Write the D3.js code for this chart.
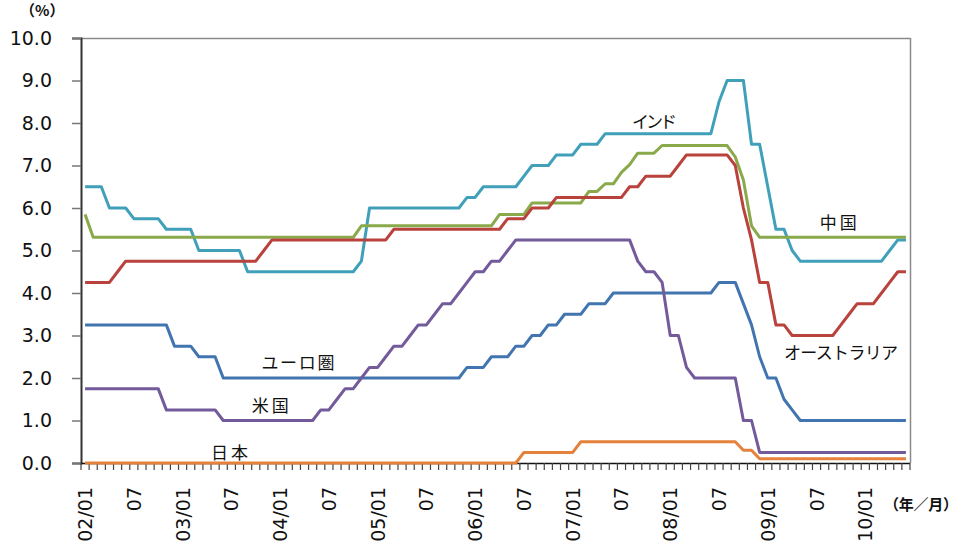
<!DOCTYPE html>
<html><head><meta charset="utf-8">
<script src="https://cdn.jsdelivr.net/npm/d3@7"></script>
<style>
html,body{margin:0;padding:0;background:#fff;}
svg{display:block;}
</style></head>
<body>
<svg id="chart" width="961" height="548"></svg>
<script>
// ---- Data (monthly, 2002/01 – 2010/06) ----
const years = ["02","03","04","05","06","07","08","09","10"];
const monthsInLastYear = 6;

const india = [
 6.5,6.5,6.5,6.0,6.0,6.0,5.75,5.75,5.75,5.75,5.5,5.5,
 5.5,5.5,5.0,5.0,5.0,5.0,5.0,5.0,4.5,4.5,4.5,4.5,
 4.5,4.5,4.5,4.5,4.5,4.5,4.5,4.5,4.5,4.5,4.75,6.0,
 6.0,6.0,6.0,6.0,6.0,6.0,6.0,6.0,6.0,6.0,6.0,6.25,
 6.25,6.5,6.5,6.5,6.5,6.5,6.75,7.0,7.0,7.0,7.25,7.25,
 7.25,7.5,7.5,7.5,7.75,7.75,7.75,7.75,7.75,7.75,7.75,7.75,
 7.75,7.75,7.75,7.75,7.75,7.75,8.5,9.0,9.0,9.0,7.5,7.5,
 6.5,5.5,5.5,5.0,4.75,4.75,4.75,4.75,4.75,4.75,4.75,4.75,
 4.75,4.75,4.75,5.0,5.25,5.25
];
const china = [
 5.85,5.31,5.31,5.31,5.31,5.31,5.31,5.31,5.31,5.31,5.31,5.31,
 5.31,5.31,5.31,5.31,5.31,5.31,5.31,5.31,5.31,5.31,5.31,5.31,
 5.31,5.31,5.31,5.31,5.31,5.31,5.31,5.31,5.31,5.31,5.58,5.58,
 5.58,5.58,5.58,5.58,5.58,5.58,5.58,5.58,5.58,5.58,5.58,5.58,
 5.58,5.58,5.58,5.85,5.85,5.85,5.85,6.12,6.12,6.12,6.12,6.12,
 6.12,6.12,6.39,6.39,6.57,6.57,6.84,7.02,7.29,7.29,7.29,7.47,
 7.47,7.47,7.47,7.47,7.47,7.47,7.47,7.47,7.2,6.66,5.58,5.31,
 5.31,5.31,5.31,5.31,5.31,5.31,5.31,5.31,5.31,5.31,5.31,5.31,
 5.31,5.31,5.31,5.31,5.31,5.31
];
const australia = [
 4.25,4.25,4.25,4.25,4.5,4.75,4.75,4.75,4.75,4.75,4.75,4.75,
 4.75,4.75,4.75,4.75,4.75,4.75,4.75,4.75,4.75,4.75,5.0,5.25,
 5.25,5.25,5.25,5.25,5.25,5.25,5.25,5.25,5.25,5.25,5.25,5.25,
 5.25,5.25,5.5,5.5,5.5,5.5,5.5,5.5,5.5,5.5,5.5,5.5,
 5.5,5.5,5.5,5.5,5.75,5.75,5.75,6.0,6.0,6.0,6.25,6.25,
 6.25,6.25,6.25,6.25,6.25,6.25,6.25,6.5,6.5,6.75,6.75,6.75,
 6.75,7.0,7.25,7.25,7.25,7.25,7.25,7.25,7.0,6.0,5.25,4.25,
 4.25,3.25,3.25,3.0,3.0,3.0,3.0,3.0,3.0,3.25,3.5,3.75,
 3.75,3.75,4.0,4.25,4.5,4.5
];
const euro = [
 3.25,3.25,3.25,3.25,3.25,3.25,3.25,3.25,3.25,3.25,3.25,2.75,
 2.75,2.75,2.5,2.5,2.5,2.0,2.0,2.0,2.0,2.0,2.0,2.0,
 2.0,2.0,2.0,2.0,2.0,2.0,2.0,2.0,2.0,2.0,2.0,2.0,
 2.0,2.0,2.0,2.0,2.0,2.0,2.0,2.0,2.0,2.0,2.0,2.25,
 2.25,2.25,2.5,2.5,2.5,2.75,2.75,3.0,3.0,3.25,3.25,3.5,
 3.5,3.5,3.75,3.75,3.75,4.0,4.0,4.0,4.0,4.0,4.0,4.0,
 4.0,4.0,4.0,4.0,4.0,4.0,4.25,4.25,4.25,3.75,3.25,2.5,
 2.0,2.0,1.5,1.25,1.0,1.0,1.0,1.0,1.0,1.0,1.0,1.0,
 1.0,1.0,1.0,1.0,1.0,1.0
];
const usa = [
 1.75,1.75,1.75,1.75,1.75,1.75,1.75,1.75,1.75,1.75,1.25,1.25,
 1.25,1.25,1.25,1.25,1.25,1.0,1.0,1.0,1.0,1.0,1.0,1.0,
 1.0,1.0,1.0,1.0,1.0,1.25,1.25,1.5,1.75,1.75,2.0,2.25,
 2.25,2.5,2.75,2.75,3.0,3.25,3.25,3.5,3.75,3.75,4.0,4.25,
 4.5,4.5,4.75,4.75,5.0,5.25,5.25,5.25,5.25,5.25,5.25,5.25,
 5.25,5.25,5.25,5.25,5.25,5.25,5.25,5.25,4.75,4.5,4.5,4.25,
 3.0,3.0,2.25,2.0,2.0,2.0,2.0,2.0,2.0,1.0,1.0,0.25,
 0.25,0.25,0.25,0.25,0.25,0.25,0.25,0.25,0.25,0.25,0.25,0.25,
 0.25,0.25,0.25,0.25,0.25,0.25
];
const japan = [
 0,0,0,0,0,0,0,0,0,0,0,0,
 0,0,0,0,0,0,0,0,0,0,0,0,
 0,0,0,0,0,0,0,0,0,0,0,0,
 0,0,0,0,0,0,0,0,0,0,0,0,
 0,0,0,0,0,0,0.25,0.25,0.25,0.25,0.25,0.25,
 0.25,0.5,0.5,0.5,0.5,0.5,0.5,0.5,0.5,0.5,0.5,0.5,
 0.5,0.5,0.5,0.5,0.5,0.5,0.5,0.5,0.5,0.3,0.3,0.1,
 0.1,0.1,0.1,0.1,0.1,0.1,0.1,0.1,0.1,0.1,0.1,0.1,
 0.1,0.1,0.1,0.1,0.1,0.1
];
const yTicks = [0,1,2,3,4,5,6,7,8,9,10];

// categories "YY/MM"
const categories = [];
years.forEach((y, yi) => {
  const n = yi === years.length - 1 ? monthsInLastYear : 12;
  for (let m = 1; m <= n; m++) categories.push(y + "/" + String(m).padStart(2, "0"));
});
const tickLabel = c => c.endsWith("/01") ? c : (c.endsWith("/07") ? "07" : null);

const series = [
  {name:"インド", values:india, color:"#40a0b9"},
  {name:"中国", values:china, color:"#8aa94b"},
  {name:"オーストラリア", values:australia, color:"#b9423d"},
  {name:"ユーロ圏", values:euro, color:"#4275b0"},
  {name:"米国", values:usa, color:"#735a9b"},
  {name:"日本", values:japan, color:"#e4813b"}
];
// annotation labels: [text, left edge (in months from start), centre (value), width]
const labels = [
  ["インド", 67.8, 8.05, 45],
  ["中国", 90.9, 5.68, 37],
  ["オーストラリア", 86.5, 2.62, 114],
  ["ユーロ圏", 22.2, 2.38, 73],
  ["米国", 21.0, 1.38, 37],
  ["日本", 16.0, 0.27, 37]
];

// ---- Drawing ----
const svg = d3.select("#chart");
const L = 81, R = 910, T = 38, B = 463;
const x = d3.scaleBand().domain(d3.range(categories.length)).range([L, R]).paddingInner(0).paddingOuter(0);
const y = d3.scaleLinear().domain([0, 10]).range([B, T]);
const cx = i => x(i) + x.bandwidth() / 2;

// plot frame (top / right)
svg.append("line").attr("x1", L).attr("x2", R + 0.5).attr("y1", T + 0.5).attr("y2", T + 0.5)
  .attr("stroke", "#8a8a8a").attr("stroke-width", 1.5);
svg.append("line").attr("x1", R + 0.5).attr("x2", R + 0.5).attr("y1", T).attr("y2", B)
  .attr("stroke", "#8a8a8a").attr("stroke-width", 1.5);

// y axis
const yAxis = d3.axisLeft(y).tickValues(yTicks).tickFormat(d3.format(".1f")).tickSize(9).tickPadding(20);
const gy = svg.append("g").attr("transform", `translate(${L},0)`).call(yAxis);
gy.select(".domain").attr("stroke", "#333").attr("stroke-width", 2);
gy.selectAll(".tick line").attr("stroke", "#777").attr("stroke-width", 1.5);
gy.selectAll(".tick text").attr("font-family", "DejaVu Sans, Verdana, sans-serif")
  .attr("font-size", 19).attr("fill", "#111");

// x axis: month ticks at category boundaries
const gx = svg.append("g");
gx.append("line").attr("x1", L).attr("x2", R).attr("y1", B + 0.5).attr("y2", B + 0.5)
  .attr("stroke", "#111").attr("stroke-width", 1.5);
gx.selectAll("line.mt").data(d3.range(categories.length + 1)).join("line")
  .attr("class", "mt")
  .attr("x1", i => i < categories.length ? x(i) : R)
  .attr("x2", i => i < categories.length ? x(i) : R)
  .attr("y1", B).attr("y2", B + 7)
  .attr("stroke", "#444").attr("stroke-width", 1.2);
gx.selectAll("text.xl").data(categories.map((c, i) => ({i, t: tickLabel(c)})).filter(d => d.t))
  .join("text").attr("class", "xl")
  .attr("transform", d => `translate(${cx(d.i)},${B + 24}) rotate(-90)`)
  .attr("text-anchor", "end").attr("dominant-baseline", "central")
  .attr("font-family", "DejaVu Sans, Verdana, sans-serif").attr("font-size", 19).attr("fill", "#111")
  .text(d => d.t);

// lines
const line = d3.line().x((d, i) => cx(i)).y(d => y(d));
svg.append("g").selectAll("path").data(series).join("path")
  .attr("d", s => line(s.values))
  .attr("fill", "none").attr("stroke", s => s.color).attr("stroke-width", 3)
  .attr("stroke-linejoin", "round");

// annotations
svg.append("g").selectAll("text").data(labels).join("text")
  .attr("x", d => x(0) + d[1] * x.bandwidth())
  .attr("y", d => y(d[2]))
  .attr("dominant-baseline", "central")
  .attr("textLength", d => d[3]).attr("lengthAdjust", "spacing")
  .attr("font-family", "Noto Sans CJK JP, sans-serif").attr("font-size", 17).attr("fill", "#111")
  .text(d => d[0]);

// unit labels
svg.append("text").attr("x", 20).attr("y", 9).attr("dominant-baseline", "central")
  .attr("font-family", "Noto Sans CJK JP, sans-serif").attr("font-weight", "bold").attr("font-size", 15)
  .attr("fill", "#111").text("（%）");
svg.append("text").attr("x", 884).attr("y", 503).attr("dominant-baseline", "central")
  .attr("font-family", "Noto Sans CJK JP, sans-serif").attr("font-weight", "bold").attr("font-size", 15)
  .attr("fill", "#111").attr("textLength", 74).text("（年／月）");
</script>
</body></html>
